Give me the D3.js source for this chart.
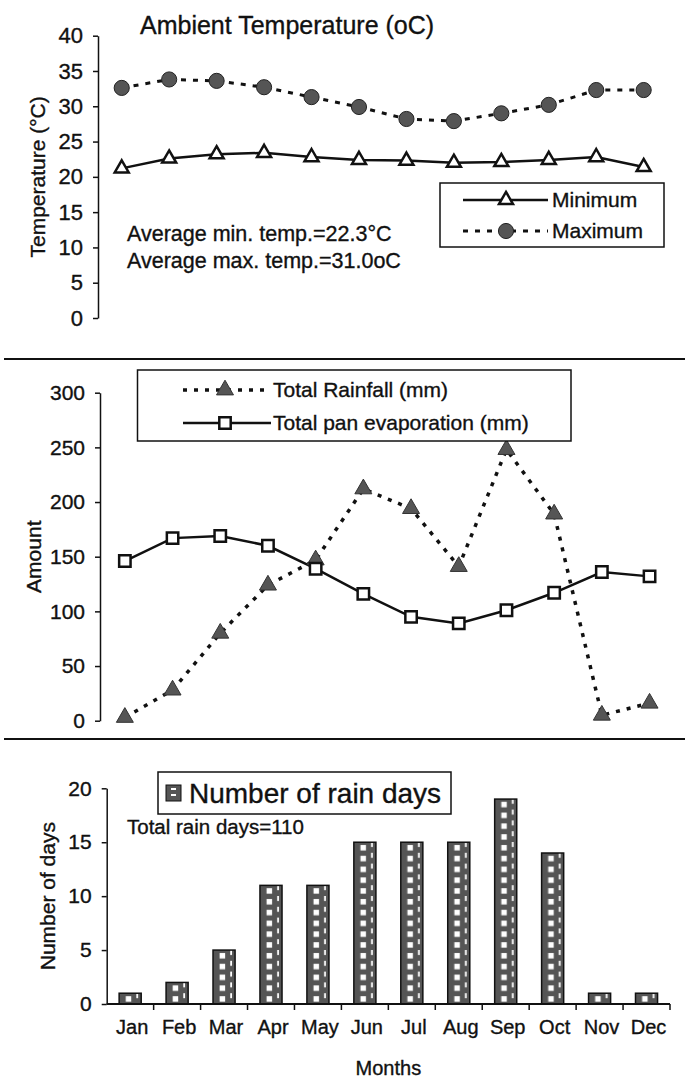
<!DOCTYPE html>
<head>
  <meta charset="utf-8">
  <script src="https://d3js.org/d3.v7.min.js"></script>
  <style>
body { margin: 0; background: #fff; }
svg { display: block; }
/* scanned figure: text looks a bit heavier than plain Arial */
text {
    font-family: "Liberation Sans", Arial, sans-serif;
    fill: #111;
    stroke: #111;
    stroke-width: 0.35px;
}
.axis path, .axis line {
    stroke: #111;
    stroke-width: 1.5px;
}
.axis text {
    font-size: 21px;
}
.big text {
    font-size: 22px;
}
  </style>
</head>

<body>
  <script>
    // values
    var months = ["Jan", "Feb", "Mar", "Apr", "May", "Jun", "Jul", "Aug", "Sep", "Oct", "Nov", "Dec"];
    var minTemp = [21.2, 22.6, 23.2, 23.4, 22.8, 22.4, 22.3, 22.0, 22.1, 22.4, 22.8, 21.4];
    var maxTemp = [32.6, 33.8, 33.6, 32.7, 31.3, 29.9, 28.2, 27.9, 29.0, 30.2, 32.3, 32.3];
    var tempTicks = [0, 5, 10, 15, 20, 25, 30, 35, 40];
    var rainfall = [3, 28, 80, 124, 147, 212, 194, 141, 248, 189, 5, 16];
    var evaporation = [146, 167, 169, 160, 139, 116, 95, 89, 101, 117, 136, 132];
    var amountTicks = [0, 50, 100, 150, 200, 250, 300];
    var rainDays = [1, 2, 5, 11, 11, 15, 15, 15, 19, 14, 1, 1];
    var dayTicks = [0, 5, 10, 15, 20];

    var svg = d3.select("body").append("svg")
      .attr("width", 685)
      .attr("height", 1079);

    var dark = "#555";

    // separators between the three panels
    [359, 739].forEach(function(y) {
      svg.append("line")
        .attr("x1", 4).attr("x2", 685)
        .attr("y1", y).attr("y2", y)
        .style("stroke", "#111").style("stroke-width", 2);
    });

    function leftAxis(scale, ticks, x) {
      var g = svg.append("g")
        .attr("class", "axis")
        .attr("transform", "translate(" + x + ",0)")
        .call(d3.axisLeft(scale).tickValues(ticks).tickSize(5).tickSizeOuter(0).tickPadding(10));
      return g;
    }

    /* ---------- panel 1 : ambient temperature ---------- */
    var x1 = d3.scalePoint().domain(months).range([98, 667.4]).padding(0.5);
    var y1 = d3.scaleLinear().domain([0, 40]).range([318, 35.7]);
    leftAxis(y1, tempTicks, 98).classed("big", true);

    svg.append("text")
      .attr("x", 140).attr("y", 25).attr("dy", "0.35em")
      .style("font-size", "25px")
      .text("Ambient Temperature (oC)");

    svg.append("text")
      .attr("transform", "translate(38," + (y1(20)) + ") rotate(-90)")
      .attr("text-anchor", "middle").attr("dy", "0.35em")
      .style("font-size", "21px")
      .text("Temperature (°C)");

    var line1 = d3.line().x(function(d, i) { return x1(months[i]); }).y(function(d) { return y1(d); });

    svg.append("path").datum(maxTemp)
      .attr("d", line1)
      .style("fill", "none").style("stroke", "#111")
      .style("stroke-width", 3).style("stroke-dasharray", "5,7");
    svg.append("path").datum(minTemp)
      .attr("d", line1)
      .style("fill", "none").style("stroke", "#111").style("stroke-width", 2.5);

    var circle = d3.symbol().type(d3.symbolCircle).size(180);
    var openTri = d3.symbol().type(d3.symbolTriangle).size(85);

    svg.selectAll(".maxPt").data(maxTemp).enter().append("path")
      .attr("class", "maxPt")
      .attr("d", circle)
      .attr("transform", function(d, i) { return "translate(" + x1(months[i]) + "," + y1(d) + ")"; })
      .style("fill", dark).style("stroke", "#222").style("stroke-width", 1);
    svg.selectAll(".minPt").data(minTemp).enter().append("path")
      .attr("class", "minPt")
      .attr("d", openTri)
      .attr("transform", function(d, i) { return "translate(" + x1(months[i]) + "," + y1(d) + ")"; })
      .style("fill", "#fff").style("stroke", "#111").style("stroke-width", 2.5);

    svg.append("text").attr("x", 127).attr("y", 233).attr("dy", "0.35em")
      .style("font-size", "21.5px").text("Average min. temp.=22.3°C");
    svg.append("text").attr("x", 127).attr("y", 260).attr("dy", "0.35em")
      .style("font-size", "21.5px").text("Average max. temp.=31.0oC");

    // legend 1
    var leg1 = svg.append("g");
    leg1.append("rect").attr("x", 440).attr("y", 183).attr("width", 224).attr("height", 64)
      .style("fill", "#fff").style("stroke", "#111").style("stroke-width", 1.5);
    leg1.append("line").attr("x1", 463).attr("x2", 548).attr("y1", 200).attr("y2", 200)
      .style("stroke", "#111").style("stroke-width", 2.5);
    leg1.append("path").attr("d", openTri).attr("transform", "translate(506,200)")
      .style("fill", "#fff").style("stroke", "#111").style("stroke-width", 2.5);
    leg1.append("text").attr("x", 552).attr("y", 200).attr("dy", "0.35em")
      .style("font-size", "21px").text("Minimum");
    leg1.append("line").attr("x1", 463).attr("x2", 548).attr("y1", 231).attr("y2", 231)
      .style("stroke", "#111").style("stroke-width", 3).style("stroke-dasharray", "5,7");
    leg1.append("path").attr("d", circle).attr("transform", "translate(506,231)")
      .style("fill", dark).style("stroke", "#222").style("stroke-width", 1);
    leg1.append("text").attr("x", 552).attr("y", 231).attr("dy", "0.35em")
      .style("font-size", "21px").text("Maximum");

    /* ---------- panel 2 : rainfall and evaporation ---------- */
    var x2 = d3.scalePoint().domain(months).range([101, 673.4]).padding(0.5);
    var y2 = d3.scaleLinear().domain([0, 300]).range([720.7, 392.7]);
    leftAxis(y2, amountTicks, 100);

    svg.append("text")
      .attr("transform", "translate(34," + y2(150) + ") rotate(-90)")
      .attr("text-anchor", "middle").attr("dy", "0.35em")
      .style("font-size", "21px")
      .text("Amount");

    var line2 = d3.line().x(function(d, i) { return x2(months[i]); }).y(function(d) { return y2(d); });

    svg.append("path").datum(rainfall)
      .attr("d", line2)
      .style("fill", "none").style("stroke", "#111")
      .style("stroke-width", 3.5).style("stroke-dasharray", "4,7");
    svg.append("path").datum(evaporation)
      .attr("d", line2)
      .style("fill", "none").style("stroke", "#111").style("stroke-width", 2.5);

    var fullTri = d3.symbol().type(d3.symbolTriangle).size(125);
    var square = d3.symbol().type(d3.symbolSquare).size(130);

    svg.selectAll(".rainPt").data(rainfall).enter().append("path")
      .attr("class", "rainPt")
      .attr("d", fullTri)
      .attr("transform", function(d, i) { return "translate(" + x2(months[i]) + "," + y2(d) + ")"; })
      .style("fill", dark).style("stroke", "#333").style("stroke-width", 1);
    svg.selectAll(".evapPt").data(evaporation).enter().append("path")
      .attr("class", "evapPt")
      .attr("d", square)
      .attr("transform", function(d, i) { return "translate(" + x2(months[i]) + "," + y2(d) + ")"; })
      .style("fill", "#fff").style("stroke", "#111").style("stroke-width", 2.5);

    // legend 2
    var leg2 = svg.append("g");
    leg2.append("rect").attr("x", 137.5).attr("y", 370).attr("width", 433.5).attr("height", 71)
      .style("fill", "#fff").style("stroke", "#111").style("stroke-width", 1.5);
    leg2.append("line").attr("x1", 183).attr("x2", 271).attr("y1", 390).attr("y2", 390)
      .style("stroke", "#111").style("stroke-width", 3.5).style("stroke-dasharray", "4,7");
    leg2.append("path").attr("d", fullTri).attr("transform", "translate(225,390)")
      .style("fill", dark).style("stroke", "#333").style("stroke-width", 1);
    leg2.append("text").attr("x", 273).attr("y", 390).attr("dy", "0.35em")
      .style("font-size", "21px").text("Total Rainfall (mm)");
    leg2.append("line").attr("x1", 183).attr("x2", 271).attr("y1", 423).attr("y2", 423)
      .style("stroke", "#111").style("stroke-width", 2.5);
    leg2.append("path").attr("d", square).attr("transform", "translate(225,423)")
      .style("fill", "#fff").style("stroke", "#111").style("stroke-width", 2.5);
    leg2.append("text").attr("x", 273).attr("y", 423).attr("dy", "0.35em")
      .style("font-size", "21px").text("Total pan evaporation (mm)");

    /* ---------- panel 3 : number of rain days ---------- */
    var x3 = d3.scaleBand().domain(months).range([106.7, 670]).paddingInner(0.53).paddingOuter(0.265);
    var y3 = d3.scaleLinear().domain([0, 20]).range([1004, 788.3]);
    leftAxis(y3, dayTicks, 106.7);

    // dark fill with a column of small white squares and white dashes
    var step = x3.step(), bw = x3.bandwidth();
    var pat = svg.append("defs").append("pattern")
      .attr("id", "dots")
      .attr("patternUnits", "userSpaceOnUse")
      .attr("x", x3(months[0])).attr("y", y3(0))
      .attr("width", step).attr("height", 10.8);
    pat.append("rect").attr("width", step).attr("height", 10.8).style("fill", dark);
    pat.append("rect").attr("x", bw * 0.3).attr("y", 3).attr("width", 5.5).attr("height", 5.5)
      .style("fill", "#fff");
    pat.append("rect").attr("x", bw * 0.78).attr("y", 0).attr("width", 1.8).attr("height", 5)
      .style("fill", "#fff");

    svg.selectAll(".bar").data(rainDays).enter().append("rect")
      .attr("class", "bar")
      .attr("x", function(d, i) { return x3(months[i]); })
      .attr("width", bw)
      .attr("y", function(d) { return y3(d); })
      .attr("height", function(d) { return y3(0) - y3(d); })
      .style("fill", "url(#dots)").style("stroke", "#111").style("stroke-width", 1.5);

    // x axis with ticks between months
    svg.append("line")
      .attr("x1", x3.range()[0]).attr("x2", x3.range()[1])
      .attr("y1", y3(0)).attr("y2", y3(0))
      .style("stroke", "#111").style("stroke-width", 2);
    svg.selectAll(".xtick").data(d3.range(1, months.length + 1)).enter().append("line")
      .attr("class", "xtick")
      .attr("x1", function(i) { return x3.range()[0] + i * step; })
      .attr("x2", function(i) { return x3.range()[0] + i * step; })
      .attr("y1", y3(0)).attr("y2", y3(0) + 6)
      .style("stroke", "#111").style("stroke-width", 1.5);
    svg.selectAll(".xlab").data(months).enter().append("text")
      .attr("class", "xlab")
      .attr("x", function(d) { return x3(d) + bw / 2 + 2; })
      .attr("y", 1027).attr("dy", "0.35em")
      .attr("text-anchor", "middle")
      .style("font-size", "20px")
      .text(function(d) { return d; });

    svg.append("text")
      .attr("x", (x3.range()[0] + x3.range()[1]) / 2).attr("y", 1068).attr("dy", "0.35em")
      .attr("text-anchor", "middle").style("font-size", "20px")
      .text("Months");

    svg.append("text")
      .attr("transform", "translate(48," + y3(10) + ") rotate(-90)")
      .attr("text-anchor", "middle").attr("dy", "0.35em")
      .style("font-size", "21px")
      .text("Number of days");

    svg.append("text").attr("x", 127).attr("y", 827).attr("dy", "0.35em")
      .style("font-size", "20.5px").text("Total rain days=110");

    // legend 3
    var leg3 = svg.append("g");
    leg3.append("rect").attr("x", 158).attr("y", 772).attr("width", 293).attr("height", 42)
      .style("fill", "#fff").style("stroke", "#111").style("stroke-width", 1.5);
    leg3.append("rect").attr("x", 166).attr("y", 785).attr("width", 15).attr("height", 16)
      .style("fill", dark).style("stroke", "#111").style("stroke-width", 1);
    leg3.append("rect").attr("x", 171).attr("y", 788).attr("width", 5).attr("height", 2)
      .style("fill", "#fff");
    leg3.append("rect").attr("x", 171).attr("y", 794).attr("width", 5).attr("height", 2)
      .style("fill", "#fff");
    leg3.append("text").attr("x", 189).attr("y", 793).attr("dy", "0.35em")
      .style("font-size", "28px").text("Number of rain days");
  </script>
</body>
